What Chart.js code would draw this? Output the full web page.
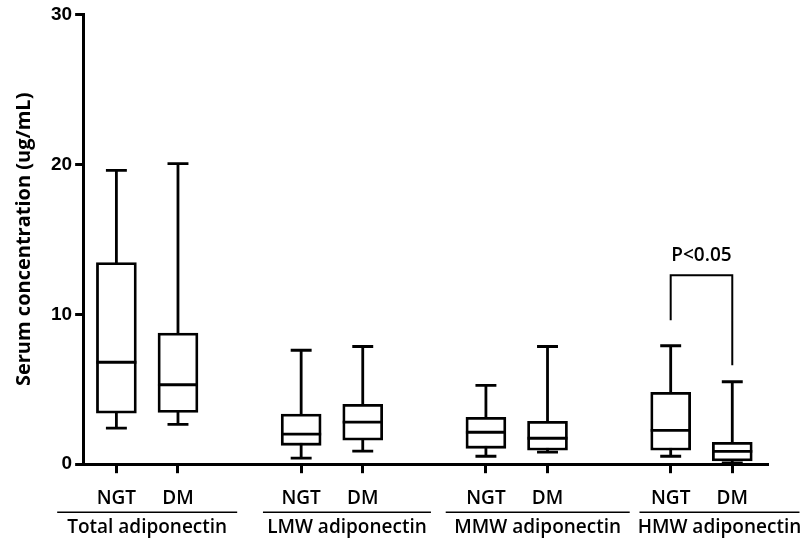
<!DOCTYPE html>
<html>
<head>
<meta charset="utf-8">
<script src="https://cdn.jsdelivr.net/npm/chart.js@4/dist/chart.umd.min.js"></script>
<style>
  html, body { margin: 0; padding: 0; background: #fff; }
  #wrap { width: 811px; height: 539px; }
</style>
</head>
<body>
<div id="wrap"><canvas id="boxChart"></canvas></div>
<script>
// dữ liệu
const groups = ["Total adiponectin", "LMW adiponectin", "MMW adiponectin", "HMW adiponectin"];
const subgroups = ["NGT", "DM", "NGT", "DM", "NGT", "DM", "NGT", "DM"];
const positions = [0, 1, 3, 4, 6, 7, 9, 10];
const whiskerLow = [2.4, 2.65, 0.4, 0.87, 0.53, 0.8, 0.53, 0.08];
const q1 = [3.4, 3.45, 1.26, 1.6, 1.06, 0.93, 0.93, 0.22];
const median = [6.8, 5.3, 2.0, 2.8, 2.13, 1.73, 2.26, 0.86];
const q3 = [13.45, 8.75, 3.35, 4.0, 3.13, 2.86, 4.8, 1.46];
const whiskerHigh = [19.6, 20.05, 7.6, 7.85, 5.26, 7.85, 7.9, 5.5];
const yTicks = [0, 10, 20, 30];

// chú thích p-value giữa NGT và DM của HMW
const sigPair = [9, 10];
const sigTop = 12.6;
const sigLegs = [9.6, 6.6];
const sigText = "P<0.05";

const boxData = positions.map((p, i) => ({ x: p, y: [q1[i], q3[i]] }));

// lệch tâm nhãn nhóm (px) và nửa chiều dài đường gạch
const groupShift = [0, 15, 21, 18];
const groupHalf = [90, 84, 92, 80];

const boxPlugin = {
    id: "boxParts",
    beforeDatasetsDraw(chart) {
        const ctx = chart.ctx, x = chart.scales.x, y = chart.scales.y;
        ctx.save();
        ctx.strokeStyle = "#000";
        ctx.lineWidth = 2.8;
        const cap = x.getPixelForValue(0.17) - x.getPixelForValue(0);
        positions.forEach((p, i) => {
            const px = x.getPixelForValue(p);
            ctx.beginPath();
            ctx.moveTo(px, y.getPixelForValue(whiskerLow[i]));
            ctx.lineTo(px, y.getPixelForValue(whiskerHigh[i]));
            ctx.moveTo(px - cap, y.getPixelForValue(whiskerLow[i]));
            ctx.lineTo(px + cap, y.getPixelForValue(whiskerLow[i]));
            ctx.moveTo(px - cap, y.getPixelForValue(whiskerHigh[i]));
            ctx.lineTo(px + cap, y.getPixelForValue(whiskerHigh[i]));
            ctx.stroke();
        });
        ctx.restore();
    },
    afterDatasetsDraw(chart) {
        const ctx = chart.ctx, x = chart.scales.x, y = chart.scales.y;
        ctx.save();
        ctx.strokeStyle = "#000";
        ctx.lineWidth = 2.8;
        const half = x.getPixelForValue(0.325) - x.getPixelForValue(0);
        positions.forEach((p, i) => {
            const px = x.getPixelForValue(p);
            const py = y.getPixelForValue(median[i]);
            ctx.beginPath();
            ctx.moveTo(px - half, py);
            ctx.lineTo(px + half, py);
            ctx.stroke();
        });

        // dấu ngoặc P<0.05
        const xa = x.getPixelForValue(sigPair[0]), xb = x.getPixelForValue(sigPair[1]);
        const yt = y.getPixelForValue(sigTop);
        ctx.lineWidth = 2;
        ctx.beginPath();
        ctx.moveTo(xa, y.getPixelForValue(sigLegs[0]));
        ctx.lineTo(xa, yt);
        ctx.lineTo(xb, yt);
        ctx.lineTo(xb, y.getPixelForValue(sigLegs[1]));
        ctx.stroke();
        ctx.fillStyle = "#000";
        ctx.font = "600 19px 'Open Sans'";
        ctx.textAlign = "center";
        ctx.textBaseline = "middle";
        ctx.fillText(sigText, (xa + xb) / 2, yt - 20);

        // nhãn nhóm bên dưới
        const lineY = chart.chartArea.bottom + 48;
        groups.forEach((g, k) => {
            const a = x.getPixelForValue(positions[k * 2]);
            const b = x.getPixelForValue(positions[k * 2 + 1]);
            const c = (a + b) / 2 + groupShift[k];
            ctx.lineWidth = 1.5;
            ctx.beginPath();
            ctx.moveTo(c - groupHalf[k], lineY);
            ctx.lineTo(c + groupHalf[k], lineY);
            ctx.stroke();
            ctx.fillText(g, c, lineY + 15);
        });
        ctx.restore();
    }
};

new Chart(document.getElementById("boxChart"), {
    type: "bar",
    data: {
        datasets: [{
            data: boxData,
            backgroundColor: "#fff",
            borderColor: "#000",
            borderWidth: 2.8,
            borderSkipped: false,
            barThickness: 40
        }]
    },
    plugins: [boxPlugin],
    options: {
        responsive: true,
        maintainAspectRatio: false,
        animation: false,
        layout: { padding: { top: 0, right: 43, bottom: 15, left: 12 } },
        plugins: { legend: { display: false }, tooltip: { enabled: false } },
        scales: {
            x: {
                type: "linear",
                offset: false,
                min: -0.54,
                max: 10.58,
                afterBuildTicks(axis) {
                    axis.ticks = positions.map(v => ({ value: v }));
                },
                ticks: {
                    color: "#000",
                    font: { family: "'Open Sans'", size: 19, weight: "600" },
                    padding: 14,
                    autoSkip: false,
                    maxRotation: 0,
                    callback: (v) => subgroups[positions.indexOf(v)]
                },
                grid: { offset: false, drawOnChartArea: false, color: "#000", tickLength: 9, tickWidth: 3 },
                border: { color: "#000", width: 3 }
            },
            y: {
                min: 0,
                max: 30,
                afterBuildTicks(axis) {
                    axis.ticks = yTicks.map(v => ({ value: v }));
                },
                ticks: {
                    color: "#000",
                    font: { family: "'Liberation Sans'", size: 19, weight: "bold" },
                    padding: 3
                },
                grid: { drawOnChartArea: false, color: "#000", tickLength: 8, tickWidth: 3 },
                border: { color: "#000", width: 3 },
                title: {
                    display: true,
                    text: "Serum concentration (ug/mL)",
                    color: "#000",
                    font: { family: "'Open Sans'", size: 20, weight: "bold" },
                    padding: { top: 0, bottom: 12 }
                }
            }
        }
    }
});
</script>
</body>
</html>
